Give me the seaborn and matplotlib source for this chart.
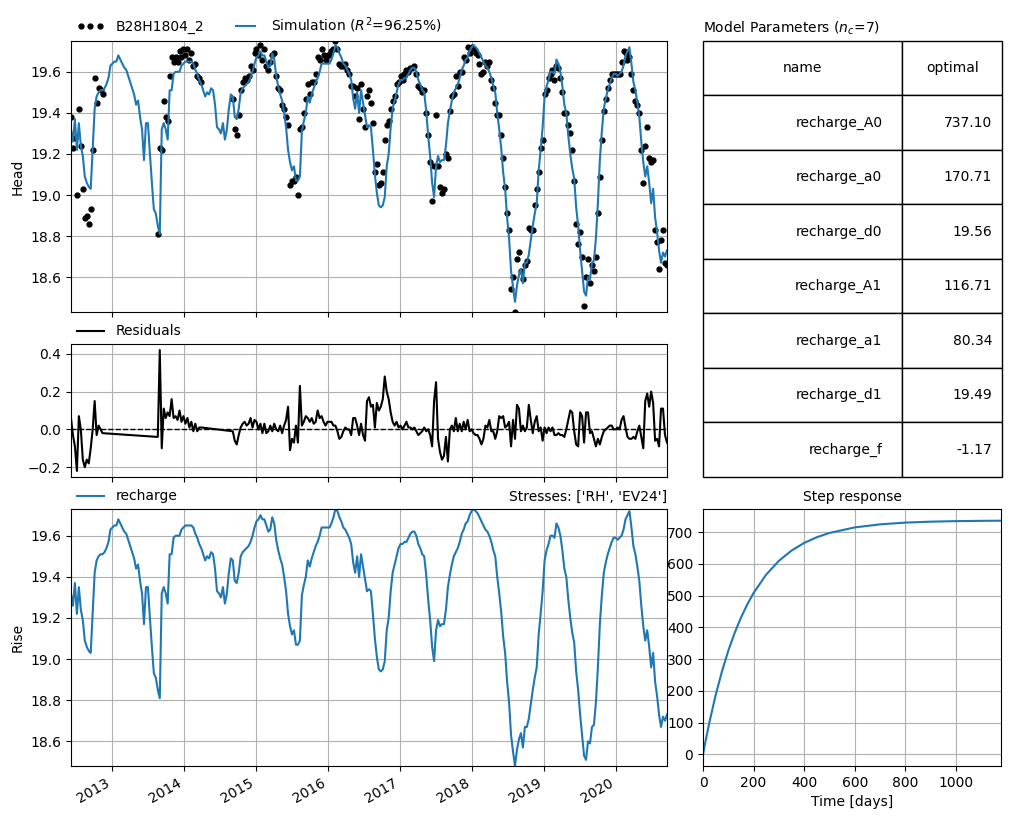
import matplotlib.pyplot as plt
import pandas as pd
import seaborn as sns

# time axis of the series: one value every 10 days
start_date = '2012-06-09'
step_days = '10D'

# simulated head (also the recharge contribution)
sim_head = [
    19.32, 19.26, 19.37, 19.22, 19.35, 19.24, 19.19, 19.09, 19.06, 19.04,
    19.03, 19.22, 19.42, 19.48, 19.50, 19.51, 19.51, 19.52, 19.54, 19.57,
    19.63, 19.64, 19.65, 19.65, 19.68, 19.66, 19.64, 19.62, 19.61, 19.58,
    19.55, 19.52, 19.49, 19.44, 19.46, 19.38, 19.32, 19.17, 19.35, 19.35,
    19.20, 19.06, 18.93, 18.91, 18.85, 18.81, 19.32, 19.35, 19.32, 19.27,
    19.51, 19.51, 19.59, 19.60, 19.60, 19.60, 19.63, 19.64, 19.65, 19.65,
    19.65, 19.65, 19.64, 19.61, 19.59, 19.56, 19.54, 19.51, 19.48, 19.50,
    19.49, 19.52, 19.51, 19.44, 19.33, 19.32, 19.30, 19.35, 19.27, 19.32,
    19.42, 19.49, 19.48, 19.38, 19.37, 19.42, 19.50, 19.52, 19.53, 19.54,
    19.55, 19.57, 19.60, 19.64, 19.67, 19.68, 19.70, 19.68, 19.68, 19.65,
    19.62, 19.63, 19.69, 19.66, 19.58, 19.53, 19.49, 19.46, 19.40, 19.33,
    19.22, 19.16, 19.12, 19.14, 19.07, 19.07, 19.09, 19.31, 19.36, 19.40,
    19.48, 19.45, 19.49, 19.52, 19.55, 19.57, 19.60, 19.64, 19.64, 19.64,
    19.64, 19.64, 19.66, 19.69, 19.73, 19.72, 19.69, 19.67, 19.64, 19.63,
    19.61, 19.59, 19.56, 19.47, 19.42, 19.50, 19.40, 19.51, 19.45, 19.39,
    19.33, 19.34, 19.33, 19.22, 19.10, 19.01, 18.95, 18.94, 18.95, 18.99,
    19.14, 19.20, 19.33, 19.42, 19.46, 19.50, 19.54, 19.56, 19.56, 19.57,
    19.57, 19.59, 19.61, 19.62, 19.62, 19.60, 19.56, 19.54, 19.51, 19.50,
    19.41, 19.29, 19.19, 19.06, 18.99, 19.14, 19.19, 19.16, 19.17, 19.17,
    19.24, 19.35, 19.41, 19.46, 19.50, 19.52, 19.54, 19.57, 19.61, 19.63,
    19.66, 19.67, 19.70, 19.72, 19.73, 19.72, 19.71, 19.69, 19.67, 19.65,
    19.63, 19.62, 19.60, 19.57, 19.53, 19.50, 19.40, 19.32, 19.23, 19.11,
    19.03, 18.89, 18.79, 18.63, 18.55, 18.48, 18.56, 18.61, 18.64, 18.57,
    18.67, 18.67, 18.71, 18.78, 18.85, 18.91, 18.96, 19.12, 19.22, 19.33,
    19.48, 19.53, 19.56, 19.60, 19.60, 19.59, 19.66, 19.64, 19.60, 19.53,
    19.44, 19.40, 19.29, 19.20, 19.13, 19.08, 18.94, 18.85, 18.73, 18.63,
    18.53, 18.51, 18.60, 18.59, 18.67, 18.68, 18.79, 18.96, 19.17, 19.31,
    19.42, 19.47, 19.51, 19.54, 19.57, 19.59, 19.59, 19.58, 19.59, 19.60,
    19.63, 19.68, 19.70, 19.72, 19.64, 19.55, 19.51, 19.45, 19.38, 19.26,
    19.16, 19.09, 19.14, 19.06, 18.96, 19.03, 18.89, 18.82, 18.73, 18.67,
    18.72, 18.70, 18.73,
]

# residuals (observed - simulated), None where there is no observation
gap1 = [None] * 27
gap2 = [None] * 15
residuals = (
    [0.06, -0.03, -0.09, -0.22, 0.07, 0.00, -0.16, -0.20, -0.16, -0.18,
     -0.10, 0.00, 0.15, -0.03, 0.02, 0.00, -0.02]
    + gap1
    + [-0.04, 0.42, -0.10, 0.11, 0.06, 0.09,
       0.07, 0.16, 0.06, 0.07, 0.05, 0.10, 0.04, 0.07, 0.03, 0.06,
       0.01, 0.04, -0.01, 0.03, -0.01, 0.01, 0.01]
    + gap2
    + [-0.01, -0.06, -0.08, -0.03, 0.01, 0.03, 0.04, 0.02,
       0.03, 0.06, 0.01, 0.05, 0.04, 0.00, 0.03, -0.02, 0.03, -0.02,
       -0.01, 0.02, -0.01, 0.03, 0.00, -0.01, 0.02, -0.02, 0.02, 0.05,
       0.12, -0.11, -0.05, -0.07, 0.02, -0.07, 0.23, 0.02, 0.04, 0.07,
       0.06, 0.04, 0.06, 0.03, 0.04, 0.10, 0.06, 0.07, 0.04, 0.02,
       0.04, 0.04, 0.04, 0.02, 0.02, -0.01, -0.05, -0.04, -0.01, 0.01,
       0.00, 0.00, -0.03, 0.06, 0.06, 0.02, -0.03, 0.03, -0.03, -0.06,
       0.15, 0.17, 0.12, 0.13, 0.01, 0.14, 0.10, 0.12, 0.16, 0.28,
       0.20, 0.16, 0.09, 0.04, 0.02, 0.04, 0.01, 0.02, 0.00, 0.02,
       0.04, 0.01, 0.01, 0.00, 0.01, -0.01, -0.03, -0.02, -0.01, 0.01,
       -0.01, 0.00, -0.03, -0.09, 0.15, 0.25, -0.05, -0.12, -0.16, -0.14,
       -0.04, -0.17, 0.00, 0.02, -0.01, 0.06, -0.01, 0.03, -0.01, 0.04,
       0.00, 0.05, -0.01, 0.00, -0.02, -0.03, -0.03, -0.05, -0.08, -0.05,
       0.02, 0.01, 0.05, -0.01, -0.01, -0.05, -0.01, 0.07, 0.06, 0.07,
       0.01, 0.02, 0.04, -0.09, 0.05, -0.05, 0.13, 0.11, -0.01, 0.02,
       -0.01, 0.01, 0.13, 0.05, -0.02, 0.04, 0.07, -0.01, 0.01, -0.06,
       0.01, -0.02, 0.01, -0.01, 0.01, -0.03, -0.03, -0.02, -0.03, -0.03,
       -0.04, 0.00, 0.05, 0.10, 0.09, -0.01, -0.08, -0.09, 0.09, 0.07,
       -0.07, 0.09, 0.09, -0.02, -0.01, -0.05, -0.09, -0.05, -0.08, -0.04,
       -0.01, 0.00, 0.01, 0.02, 0.02, 0.00, 0.00, 0.01, 0.00, 0.05,
       0.07, 0.01, -0.04, -0.05, -0.05, -0.04, -0.05, -0.01, 0.02, -0.04,
       -0.10, 0.15, 0.19, 0.12, 0.20, 0.14, -0.06, -0.05, -0.09, 0.11,
       0.11, -0.03, -0.07]
)

obs_name = 'B28H1804_2'
r_squared = 96.25
stresses = ['RH', 'EV24']
n_param = 7

param_names = ['recharge_A0', 'recharge_a0', 'recharge_d0', 'recharge_A1',
               'recharge_a1', 'recharge_d1', 'recharge_f']
param_optimal = [737.10, 170.71, 19.56, 116.71, 80.34, 19.49, -1.17]

step_time = [0, 5, 10, 25, 50, 75, 100, 125, 150, 175, 200, 250, 300, 350,
             400, 450, 500, 600, 700, 800, 900, 1000, 1100, 1179]
step_value = [0.0, 21.3, 41.9, 100.4, 187.2, 262.0, 326.8, 382.6, 431.0, 472.6,
              508.7, 566.7, 609.9, 642.2, 666.3, 684.3, 697.7, 715.2, 724.9,
              730.3, 733.3, 735.0, 735.9, 736.4]

dates = pd.date_range(start_date, periods=len(sim_head), freq=step_days)
df = pd.DataFrame({'date': dates, 'sim': sim_head,
                   'res': pd.array(residuals, dtype='Float64')})
df['res'] = df['res'].astype(float)
df['obs'] = df['sim'] + df['res']
obs_df = df.dropna(subset=['res'])

fig = plt.figure(figsize=(10.11, 8.19), dpi=100)
ax1 = fig.add_axes([0.0702, 0.6190, 0.5895, 0.3309])
ax2 = fig.add_axes([0.0702, 0.4176, 0.5895, 0.1624], sharex=ax1)
ax3 = fig.add_axes([0.0702, 0.0647, 0.5895, 0.3138], sharex=ax1)
axt = fig.add_axes([0.6954, 0.4176, 0.2957, 0.5324])
axs = fig.add_axes([0.6954, 0.0647, 0.2948, 0.3138])

# _____ head: observations and simulation _____
sns.lineplot(data=obs_df, x='date', y='obs', ax=ax1, color='k', marker='.',
             linestyle='', markersize=7, markeredgecolor='k', markeredgewidth=1,
             estimator=None, label=obs_name)
sns.lineplot(data=df, x='date', y='sim', ax=ax1, color='C0', estimator=None,
             label=f'Simulation ($R^2$={r_squared:.2f}%)')
ax1.legend(loc=(0, 1), ncol=3, frameon=False, numpoints=3)
ax1.set_ylim(min(obs_df['obs'].min(), df['sim'].min()),
             max(obs_df['obs'].max(), df['sim'].max()))
ax1.set_xlim(dates[0], dates[-1])
ax1.set_ylabel('Head')
ax1.set_xlabel('')
ax1.tick_params(labelbottom=False)
ax1.grid(True)

# _____ residuals _____
ax2.axhline(0.0, color='k', linestyle='--', linewidth=1, zorder=1.8)
sns.lineplot(data=obs_df, x='date', y='res', ax=ax2, color='k', estimator=None,
             label='Residuals')
ax2.legend(loc=(0, 1), ncol=3, frameon=False)
ax2.set_ylabel('')
ax2.set_xlabel('')
ax2.tick_params(labelbottom=False)
ax2.grid(True)

# _____ contribution _____
sns.lineplot(data=df, x='date', y='sim', ax=ax3, color='C0', estimator=None,
             label='recharge')
ax3.legend(loc=(0, 1), ncol=3, frameon=False)
ax3.set_title(f'Stresses: {stresses}', loc='right', fontsize=10)
ax3.set_ylim(df['sim'].min(), df['sim'].max())
ax3.set_ylabel('Rise')
ax3.set_xlabel('')
ax3.tick_params(axis='x', labelrotation=30)
ax3.grid(True)

# _____ parameter table _____
axt.axis('off')
cell_text = [[n, f'{v:.2f}'] for n, v in zip(param_names, param_optimal)]
tab = axt.table(cellText=cell_text, colLabels=['name', 'optimal'],
                colWidths=[2 / 3, 1 / 3], cellLoc='right', bbox=[0, 0, 1, 1])
tab.auto_set_font_size(False)
tab.set_fontsize(10)
axt.set_title(f'Model Parameters ($n_c$={n_param})', loc='left', fontsize=10)

# _____ step response _____
sns.lineplot(x=step_time, y=step_value, ax=axs, color='C0', estimator=None)
axs.set_xlim(0, step_time[-1])
axs.set_title('Step response', fontsize=10)
axs.set_xlabel('Time [days]')
axs.grid(True)

fig.canvas.draw()
for lbl in ax3.get_xticklabels():
    lbl.set_ha('right')

fig.savefig('out.png', dpi=100)
